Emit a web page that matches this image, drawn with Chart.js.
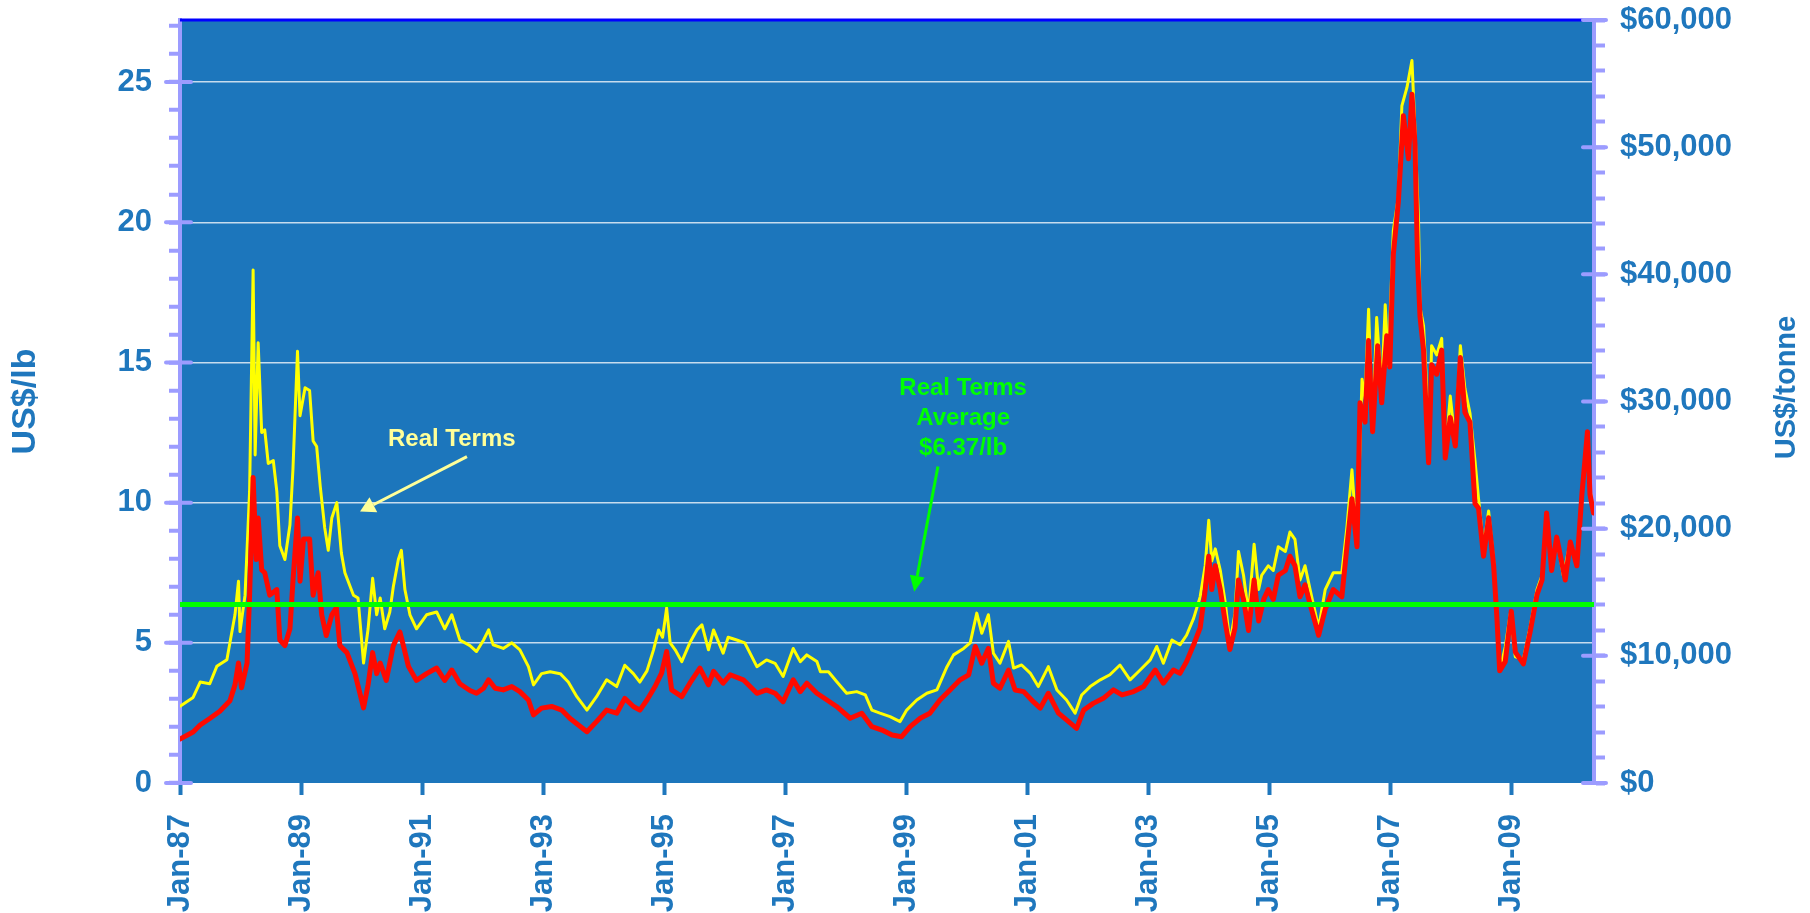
<!DOCTYPE html>
<html>
<head>
<meta charset="utf-8">
<title>Nickel price - real and nominal terms</title>
<script src="https://cdn.jsdelivr.net/npm/chart.js@4.4.1/dist/chart.umd.min.js"></script>
<style>
  html, body { margin: 0; padding: 0; background: #ffffff; overflow: hidden; }
  canvas { display: block; }
</style>
</head>
<body>
<canvas id="nickelChart" width="1810" height="913"></canvas>
<script>
// ---- data (x = months since Jan-87, y = US$/lb) ----
const realMonths = [
  0, 2.6, 4.0, 5.9, 7.3, 9.3, 9.9, 10.9, 11.6, 11.9, 12.9, 13.8, 14.5, 14.9, 15.5, 16.2, 16.8, 17.5, 18.5, 19.2,
  19.8, 20.8, 21.8, 22.4, 23.3, 23.8, 24.8, 25.7, 26.4, 27.1, 27.8, 28.7, 29.4, 30.1, 31.1, 32.0, 32.7, 34.4, 35.3, 36.4,
  37.3, 38.2, 39.0, 39.7, 40.6, 41.6, 42.3, 43.3, 43.9, 44.6, 45.6, 46.9, 48.9, 50.9, 52.5, 53.9, 55.5, 57.5,
  58.8, 60.2, 61.2, 62.1, 64.1, 65.8, 67.4, 69.1, 70.1, 71.7, 73.4, 75.4, 77, 78.7, 80.7, 82.6, 84.6, 86.6, 88.2, 89.9,
  91.2, 92.6, 93.9, 94.9, 95.7, 96.5, 97.2, 98.2, 99.5, 101.1, 102.5, 103.5, 104.8, 105.8, 107.7, 108.7, 110.4, 112, 114.4, 116.3,
  118, 119.6, 121.6,
  123, 124.3, 126.3, 127, 128.6, 130.2, 132.2, 134.2, 135.9, 137.2, 138.8, 140.8, 142.8, 144.1, 146.1, 148.1, 150.1, 152.1, 153.4, 155.4,
  156.7, 158, 159, 160.3, 161.3, 162.6, 164.3, 165.3, 166.9, 168.6, 170.2, 172.2, 173.9, 175.8, 177.5, 178.8, 180.5, 182.5, 184.4, 186.4,
  188.4, 190.4, 192.4, 193.7, 195, 196.7,
  198.3, 199.6, 201, 202.3, 203.3, 204, 204.6, 205.3, 206.3, 207.3, 208.2, 209.2, 209.9, 210.9, 211.9, 213, 213.9, 214.5, 215.8, 216.8,
  217.8, 219.2, 220.1, 221.1, 222.1, 223.1, 224.1, 225.8, 227.1, 228.7, 230.4, 231.4, 232.4, 233.4, 234.4, 235, 235.7, 236.5, 237.3, 238.3,
  239, 239.6, 240.6, 241.6, 242.3, 243.3, 244.3, 244.9, 245.6, 245.9, 246.6, 247.2, 247.6, 248.2, 249.2, 250.2, 250.9, 251.9, 252.9, 253.9,
  254.8, 255.8, 256.8, 257.5, 258.5, 259.5, 260.5, 261.1, 261.7, 262.8, 263.8, 264.8, 266.4, 267.7, 269.1, 270.1, 271, 272, 273, 274.3,
  275.7, 277, 278, 278.6, 279.1, 279.6, 280.3
];
const realPrice = [
  2.74, 3.05, 3.6, 3.54, 4.16, 4.4, 5.0, 6.0, 7.2, 5.4, 6.7, 10.4, 18.3, 11.7, 15.7, 12.5, 12.6, 11.4, 11.5, 10.4,
  8.46, 7.97, 9.2, 11.2, 15.4, 13.1, 14.1, 14.0, 12.2, 12.0, 10.6, 9.1, 8.3, 9.45, 10.0, 8.2, 7.5, 6.7, 6.6, 4.28,
  5.5, 7.3, 6.0, 6.6, 5.5, 6.1, 7.0, 7.97, 8.3, 6.9, 6.0, 5.5, 6.0, 6.1, 5.5, 6.0, 5.1, 4.9,
  4.69, 5.1, 5.46, 4.93, 4.8, 5.0, 4.75, 4.15, 3.5, 3.9, 3.97, 3.9, 3.6, 3.08, 2.6, 3.08, 3.68, 3.44, 4.2, 3.9,
  3.6, 4.0, 4.75, 5.46, 5.2, 6.24, 5.0, 4.75, 4.33, 5.0, 5.46, 5.64, 4.75, 5.46, 4.63, 5.2, 5.1, 5.0, 4.15, 4.39,
  4.27, 3.8, 4.8,
  4.33, 4.57, 4.33, 3.97, 3.97, 3.62, 3.2, 3.26, 3.14, 2.6, 2.49, 2.37, 2.19, 2.6, 2.96, 3.2, 3.32, 4.15, 4.57, 4.8,
  5.0, 6.06, 5.34, 6.0, 4.63, 4.27, 5.05, 4.1, 4.21, 3.92, 3.44, 4.15, 3.32, 2.96, 2.49, 3.14, 3.44, 3.68, 3.86, 4.21,
  3.68, 4.03, 4.39, 4.87, 4.27, 5.1,
  4.93, 5.27, 5.87, 6.64, 7.75, 9.37, 7.92, 8.35, 7.58, 6.4, 5.0, 6.04, 8.26, 7.41, 6.04, 8.52, 6.9, 7.41, 7.75, 7.58,
  8.43, 8.26, 8.95, 8.69, 7.24, 7.75, 6.9, 5.53, 6.9, 7.5, 7.5, 9.12, 11.17, 8.6, 14.4, 13.7, 16.9, 12.5, 16.6, 14.07,
  17.06, 14.9, 19.7, 20.9, 24.15, 24.8, 25.77, 23.3, 20.05, 16.97, 16.3, 14.24, 11.5, 15.6, 15.27, 15.86, 11.68, 13.8, 12.1, 15.6,
  14.07, 13.2, 11.5, 10.14, 8.43, 9.7, 7.92, 6.2, 4.0, 4.85, 6.04, 4.5, 4.42, 5.53, 6.9, 7.41, 9.63, 7.58, 8.77, 7.41,
  8.6, 7.92, 10.3, 11.5, 12.5, 10.5, 9.63
];

const nominalMonths = [
  0, 2.6, 4.0, 5.9, 7.9, 9.9, 10.9, 11.6, 12.2, 13.3, 13.8, 14.5, 15.1, 15.5, 16.2, 16.8, 17.8, 19.2, 19.8, 20.8,
  21.8, 22.4, 23.3, 23.8, 24.5, 25.7, 26.4, 27.4, 28.1, 29, 30.1, 31, 31.7, 33.1, 34.7, 36.4, 37.3, 38.2, 39, 39.7,
  40.9, 42.3, 43.6, 44.3, 45.3, 46.9, 48.9, 50.9, 52.5, 53.9, 55.5, 57.5,
  58.8, 60.2, 61.2, 62.5, 64.1, 65.8, 67.4, 69.1, 70.1, 71.7, 73.7, 75.7, 77.3, 79, 80.7, 82.6, 84.6, 86.6, 88.2, 89.9,
  91.2, 92.6, 94.2, 95.5, 96.5, 97.5, 99.5, 101.1, 103.1, 104.8, 105.8, 107.7, 109.1, 111.7, 114.4, 116.3, 118, 119.6, 121.6,
  123, 124.3, 126.3, 128.3, 130.2, 132.9, 135.2, 137.2, 139.2, 141.2, 143.1, 144.8, 146.8, 148.7, 150.7, 152.7, 154.7, 156.4, 157.7, 159,
  160.3, 161.3, 162.6, 164.3, 165.6, 167.3, 169.2, 170.6, 172.2, 174.2, 175.8, 177.8, 179.2, 181.1, 183.1, 185.1, 186.8, 189.1, 191.1, 193.4,
  195, 197,
  198.3, 199.6, 201, 202.3, 203.3, 204, 204.6, 205.3, 206.3, 207.3, 208.2, 209.2, 209.9, 210.9, 211.9, 213, 213.9, 214.9, 215.8, 216.8,
  217.8, 219.2, 220.1, 221.1, 222.1, 223.1, 224.1, 225.8, 227.1, 228.7, 230.4, 231.4, 232.4, 233.4, 234, 235, 235.7, 236.5, 237.5, 238.3,
  239.3, 239.9, 240.6, 241.6, 242.6, 243.6, 244.3, 244.9, 245.4, 245.9, 246.6, 247.2, 247.6, 248.2, 249.2, 250.2, 250.9, 251.9, 252.9, 253.9,
  254.8, 255.8, 256.8, 257.5, 258.5, 259.5, 260.5, 261.1, 261.7, 262.8, 264, 264.8, 266.4, 267.7, 269.1, 270.1, 271, 272, 273, 274.7,
  275.7, 277, 278, 278.6, 279.1, 279.6, 280.3
];
const nominalPrice = [
  1.57, 1.82, 2.07, 2.3, 2.56, 2.93, 3.5, 4.28, 3.4, 4.28, 6.7, 10.9, 7.97, 9.45, 7.6, 7.5, 6.7, 6.9, 5.1, 4.9,
  5.5, 7.2, 9.45, 7.2, 8.7, 8.7, 6.7, 7.5, 6.0, 5.26, 6.0, 6.25, 4.9, 4.65, 3.9, 2.68, 3.5, 4.65, 3.9, 4.28,
  3.66, 4.9, 5.39, 4.9, 4.16, 3.66, 3.9, 4.1, 3.66, 4.03, 3.54, 3.3,
  3.2, 3.38, 3.68, 3.38, 3.32, 3.44, 3.26, 2.96, 2.43, 2.67, 2.73, 2.6, 2.31, 2.07, 1.83, 2.19, 2.6, 2.49, 3.02, 2.73,
  2.6, 2.96, 3.44, 3.92, 4.69, 3.32, 3.08, 3.56, 4.1, 3.5, 3.98, 3.56, 3.86, 3.68, 3.2, 3.32, 3.2, 2.9, 3.68,
  3.26, 3.56, 3.2, 2.96, 2.73, 2.31, 2.49, 2.01, 1.89, 1.71, 1.65, 2.01, 2.31, 2.49, 2.96, 3.32, 3.68, 3.86, 4.87, 4.27,
  4.8, 3.56, 3.38, 4.03, 3.32, 3.26, 2.9, 2.67, 3.2, 2.49, 2.25, 1.95, 2.6, 2.84, 3.02, 3.32, 3.14, 3.26, 3.44, 4.03,
  3.56, 4.03,
  3.91, 4.33, 4.93, 5.53, 6.9, 8.09, 6.9, 7.75, 6.9, 5.7, 4.76, 5.53, 7.24, 6.55, 5.44, 7.24, 5.78, 6.55, 6.9, 6.55,
  7.41, 7.58, 8.09, 7.75, 6.64, 7.07, 6.38, 5.27, 6.2, 6.9, 6.64, 8.43, 10.14, 8.43, 13.56, 12.87, 15.78, 12.53, 15.6, 13.56,
  15.95, 14.84, 18.85, 20.73, 23.8, 22.27, 24.57, 22.8, 18.68, 16.63, 15.44, 12.87, 11.42, 14.92, 14.58, 15.44, 11.59, 13.04, 12.02, 15.18,
  13.22, 12.87, 9.97, 9.8, 8.09, 9.46, 7.75, 6.04, 4.0, 4.33, 6.13, 4.67, 4.25, 5.36, 6.72, 7.24, 9.63, 7.58, 8.77, 7.24,
  8.6, 7.75, 10.3, 11.5, 12.53, 10.3, 9.63
];

const realAverage = 6.37;           // US$/lb
const lastMonth = 280.4;            // mid May 2010
const lbPerTonne = 2204.62;
const tonneMax = 60000;

// annotation anchors, in data units (month, US$/lb)
const realNote = { text: 'Real Terms', m: 53.9, v: 12.25, from: [56.9, 11.64], to: [35.7, 9.68] };
const avgNote = { lines: ['Real Terms', 'Average', '$6.37/lb'], m: 155.3, v: 13.0, from: [150.3, 11.29], to: [145.6, 6.82] };

// ---- styling ----
const FONT = '"Liberation Sans", Arial, sans-serif';
const TEXT_BLUE = '#1f77bd';
const PLOT_BG = '#1c76bc';
const AXIS_PURPLE = '#9c9cff';

Chart.defaults.font.family = FONT;
Chart.defaults.font.weight = 'bold';
Chart.defaults.font.size = 31;
Chart.defaults.color = TEXT_BLUE;

function toPoints(xs, ys) {
  return xs.map((x, i) => ({ x: x, y: ys[i] }));
}

function drawArrow(ctx, x1, y1, x2, y2, color, width, headLen, headWidth) {
  const ang = Math.atan2(y2 - y1, x2 - x1);
  const bx = x2 - headLen * Math.cos(ang);
  const by = y2 - headLen * Math.sin(ang);
  ctx.strokeStyle = color;
  ctx.lineWidth = width;
  ctx.beginPath();
  ctx.moveTo(x1, y1);
  ctx.lineTo(bx, by);
  ctx.stroke();
  ctx.fillStyle = color;
  ctx.beginPath();
  ctx.moveTo(x2, y2);
  ctx.lineTo(bx + headWidth / 2 * Math.sin(ang), by - headWidth / 2 * Math.cos(ang));
  ctx.lineTo(bx - headWidth / 2 * Math.sin(ang), by + headWidth / 2 * Math.cos(ang));
  ctx.closePath();
  ctx.fill();
}

// vertical axes: fixed width, and no extra top/bottom room for the end labels
function fixAxisWidth(w) {
  return s => {
    s.width = w;
    s.paddingTop = 0;
    s.paddingBottom = 0;
  };
}

// plot background + blue top frame + inner half of the major ticks
const frame = {
  id: 'frame',
  beforeDraw(chart) {
    const { ctx, chartArea: a } = chart;
    ctx.save();
    ctx.fillStyle = PLOT_BG;
    ctx.fillRect(a.left, a.top, a.right - a.left, a.bottom - a.top);
    ctx.restore();
  },
  afterDraw(chart) {
    const { ctx, chartArea: a, scales } = chart;
    ctx.save();
    ctx.strokeStyle = '#0000ff';
    ctx.lineWidth = 3;
    ctx.beginPath();
    ctx.moveTo(a.left, a.top);
    ctx.lineTo(a.right - 10, a.top);
    ctx.stroke();

    ctx.strokeStyle = AXIS_PURPLE;
    ctx.lineWidth = 4;
    ctx.lineCap = 'round';
    scales.y.ticks.forEach(t => {
      if (t.value % 5 !== 0) return;
      const py = scales.y.getPixelForValue(t.value);
      ctx.beginPath();
      ctx.moveTo(a.left - 14, py);
      ctx.lineTo(a.left + 11, py);
      ctx.stroke();
    });
    scales.y2.ticks.forEach(t => {
      if (t.value % 10000 !== 0) return;
      const py = scales.y2.getPixelForValue(t.value);
      ctx.beginPath();
      ctx.moveTo(a.right - 11, py);
      ctx.lineTo(a.right + 12, py);
      ctx.stroke();
    });

    // right axis title, reading bottom to top
    ctx.fillStyle = TEXT_BLUE;
    ctx.font = 'bold 29px ' + FONT;
    ctx.textAlign = 'center';
    ctx.textBaseline = 'middle';
    ctx.translate(scales.y2.right - 23, (a.top + a.bottom) / 2 - 14);
    ctx.rotate(-Math.PI / 2);
    ctx.fillText('US$/tonne', 0, 0);
    ctx.restore();
  }
};

const notes = {
  id: 'notes',
  afterDatasetsDraw(chart) {
    const { ctx, scales: { x, y } } = chart;
    ctx.save();
    ctx.font = 'bold 24px ' + FONT;
    ctx.textAlign = 'center';
    ctx.textBaseline = 'middle';

    ctx.fillStyle = '#ffff99';
    ctx.fillText(realNote.text, x.getPixelForValue(realNote.m), y.getPixelForValue(realNote.v));
    drawArrow(ctx,
      x.getPixelForValue(realNote.from[0]), y.getPixelForValue(realNote.from[1]),
      x.getPixelForValue(realNote.to[0]), y.getPixelForValue(realNote.to[1]),
      '#ffff99', 3, 15, 17);

    ctx.fillStyle = '#00ff00';
    const cx = x.getPixelForValue(avgNote.m);
    const cy = y.getPixelForValue(avgNote.v);
    avgNote.lines.forEach((line, i) => {
      ctx.fillText(line, cx, cy + (i - 1) * 30);
    });
    drawArrow(ctx,
      x.getPixelForValue(avgNote.from[0]), y.getPixelForValue(avgNote.from[1]),
      x.getPixelForValue(avgNote.to[0]), y.getPixelForValue(avgNote.to[1]),
      '#00ff00', 3, 16, 15);
    ctx.restore();
  }
};

const ctx = document.getElementById('nickelChart').getContext('2d');
new Chart(ctx, {
  type: 'line',
  data: {
    datasets: [
      {
        label: 'Real Terms',
        data: toPoints(realMonths, realPrice),
        borderColor: '#ffff00',
        borderWidth: 3,
        order: 3
      },
      {
        label: 'Nominal',
        data: toPoints(nominalMonths, nominalPrice),
        borderColor: '#ff0a00',
        borderWidth: 5,
        order: 2
      },
      {
        label: 'Real Terms Average',
        data: [{ x: 0, y: realAverage }, { x: lastMonth, y: realAverage }],
        borderColor: '#00ff00',
        borderWidth: 5,
        order: 1
      }
    ]
  },
  options: {
    responsive: false,
    animation: false,
    devicePixelRatio: 1,
    parsing: false,
    layout: { padding: { top: 20, left: 0, right: 0, bottom: 0 } },
    elements: {
      point: { radius: 0 },
      line: { tension: 0, borderJoinStyle: 'round', borderCapStyle: 'round' }
    },
    plugins: {
      legend: { display: false },
      tooltip: { enabled: false }
    },
    scales: {
      x: {
        type: 'linear',
        min: 0,
        max: lastMonth,
        afterFit: s => { s.height = 130; },
        border: { display: false },
        grid: { drawOnChartArea: false, tickColor: TEXT_BLUE, tickLength: 12, tickWidth: 4 },
        ticks: {
          stepSize: 24,
          includeBounds: false,
          autoSkip: false,
          minRotation: 90,
          maxRotation: 90,
          padding: 19,
          color: TEXT_BLUE,
          callback: v => 'Jan-' + String((87 + v / 12) % 100).padStart(2, '0')
        }
      },
      y: {
        position: 'left',
        min: 0,
        max: tonneMax / lbPerTonne,
        afterFit: fixAxisWidth(180),
        border: { color: AXIS_PURPLE, width: 4 },
        grid: {
          color: c => (c.tick && c.tick.value > 0 && c.tick.value % 5 === 0) ? 'rgba(255,255,255,0.75)' : 'rgba(0,0,0,0)',
          lineWidth: 1.5,
          tickColor: AXIS_PURPLE,
          tickLength: 11,
          tickWidth: 4
        },
        ticks: {
          stepSize: 1,
          includeBounds: false,
          autoSkip: false,
          padding: 17,
          color: TEXT_BLUE,
          callback: v => (v % 5 === 0 ? String(v) : '')
        },
        title: {
          display: true,
          text: 'US$/lb',
          color: TEXT_BLUE,
          font: { size: 34, weight: 'bold' },
          padding: { top: 5, bottom: 0 }
        }
      },
      y2: {
        position: 'right',
        min: 0,
        max: tonneMax,
        afterFit: fixAxisWidth(216),
        border: { color: AXIS_PURPLE, width: 4 },
        grid: { drawOnChartArea: false, tickColor: AXIS_PURPLE, tickLength: 11, tickWidth: 4 },
        ticks: {
          stepSize: 2000,
          includeBounds: false,
          autoSkip: false,
          padding: 15,
          color: TEXT_BLUE,
          callback: v => (v % 10000 === 0 ? '$' + v.toLocaleString('en-US') : '')
        }
      }
    }
  },
  plugins: [frame, notes]
});
</script>
</body>
</html>
